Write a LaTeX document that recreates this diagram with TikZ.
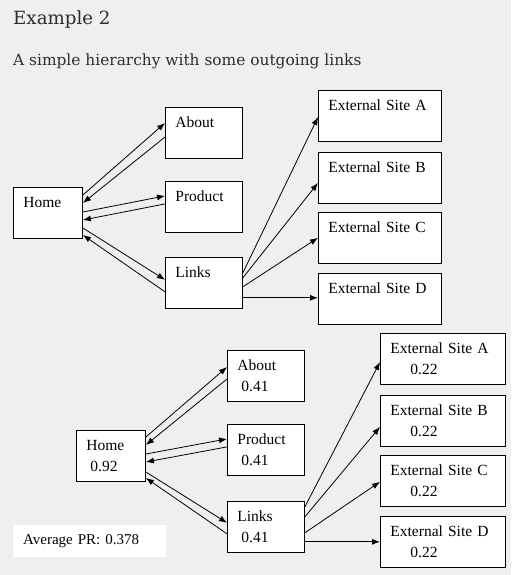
\documentclass[tikz,border=0pt]{standalone}
\usepackage{fontspec}
\setmainfont{Liberation Serif}
\newfontfamily\headfont{DejaVu Serif}
\usepackage{tikz}
\usetikzlibrary{positioning,arrows.meta,calc}
\definecolor{pagebg}{RGB}{239,239,239}
\definecolor{headtext}{RGB}{45,45,45}
\tikzset{
  pagebox/.style={draw, fill=white, line width=0.9pt, anchor=north west,
    minimum height=51pt, inner xsep=10pt, inner ysep=0pt, align=left,
    text width=57pt, font=\fontsize{15.5}{21}\selectfont},
  homebox/.style={pagebox, text width=49pt},
  sitebox/.style={pagebox, text width=103pt},
  link/.style={line width=0.8pt, -{Latex[length=8pt,width=6pt]}},
  heading/.style={anchor=base west, inner sep=0pt, text=headtext},
}
\begin{document}
\begin{tikzpicture}[x=1pt, y=-1pt]
      \fill[pagebg] (0,0) rectangle (511,575);
      \useasboundingbox (0,0) rectangle (511,575);
      \node [heading, font=\headfont\fontsize{18.2}{22}\selectfont] (t1) at (13,25) {Example 2};
      \node [heading, font=\headfont\fontsize{15.4}{19}\selectfont] (t2) at (13,66) {A simple hierarchy with some outgoing links};

      \node [homebox] (h1) at (13,187) {Home\\\mbox{}};
      \node [pagebox] (a1) at (165,107) {About\\\mbox{}};
      \node [pagebox, below=22pt of a1] (p1) {Product\\\mbox{}};
      \node [pagebox, below=24pt of p1] (l1) {Links\\\mbox{}};
      \node [sitebox] (sa1) at (318,90) {External Site A\\\mbox{}};
      \node [sitebox, below=10pt of sa1] (sb1) {External Site B\\\mbox{}};
      \node [sitebox, below=8pt of sb1] (sc1) {External Site C\\\mbox{}};
      \node [sitebox, below=9pt of sc1] (sd1) {External Site D\\\mbox{}};

      \draw [link] ($(h1.north east)+(0,8)$) -- ($(a1.north west)+(0,16)$);
      \draw [link] ($(a1.north west)+(0,30)$) -- ($(h1.north east)+(0,16)$);
      \draw [link] ($(h1.north east)+(0,25)$) -- ($(p1.north west)+(0,15)$);
      \draw [link] ($(p1.north west)+(0,23)$) -- ($(h1.north east)+(0,33)$);
      \draw [link] ($(h1.north east)+(0,41)$) -- ($(l1.north west)+(0,23)$);
      \draw [link] ($(l1.north west)+(0,35)$) -- ($(h1.north east)+(0,48)$);
      \draw [link] ($(l1.north east)+(0,16)$) -- ($(sa1.north west)+(0,27)$);
      \draw [link] ($(l1.north east)+(0,21)$) -- ($(sb1.north west)+(0,31)$);
      \draw [link] ($(l1.north east)+(0,30)$) -- ($(sc1.north west)+(0,26)$);
      \draw [link] ($(l1.north east)+(0,41)$) coordinate (d1) -- (sd1.west |- d1);

      \node [homebox] (h2) at (76,430) {Home\\\hspace*{4pt}0.92};
      \node [pagebox] (a2) at (227,350) {About\\\hspace*{4pt}0.41};
      \node [pagebox, below=22pt of a2] (p2) {Product\\\hspace*{4pt}0.41};
      \node [pagebox, below=25pt of p2] (l2) {Links\\\hspace*{4pt}0.41};
      \node [sitebox, text width=105pt] (sa2) at (380,333) {External Site A\\\hspace*{20pt}0.22};
      \node [sitebox, text width=105pt, below=10pt of sa2] (sb2) {External Site B\\\hspace*{20pt}0.22};
      \node [sitebox, text width=105pt, below=8pt of sb2] (sc2) {External Site C\\\hspace*{20pt}0.22};
      \node [sitebox, text width=105pt, below=9pt of sc2] (sd2) {External Site D\\\hspace*{20pt}0.22};
      \node [fill=white, anchor=north west, minimum height=32pt, inner xsep=10pt,
        text width=133pt, align=left, font=\fontsize{15}{18}\selectfont] (avg) at (13,525) {Average PR: 0.378};

      \draw [link] ($(h2.north east)+(0,7)$) -- ($(a2.north west)+(0,17)$);
      \draw [link] ($(a2.north west)+(0,29)$) -- ($(h2.north east)+(0,15)$);
      \draw [link] ($(h2.north east)+(0,24)$) -- ($(p2.north west)+(0,15)$);
      \draw [link] ($(p2.north west)+(0,23)$) -- ($(h2.north east)+(0,32)$);
      \draw [link] ($(h2.north east)+(0,42)$) -- ($(l2.north west)+(0,22)$);
      \draw [link] ($(l2.north west)+(0,33)$) -- ($(h2.north east)+(0,48)$);
      \draw [link] ($(l2.north east)+(0,6)$) -- ($(sa2.north west)+(0,29)$);
      \draw [link] ($(l2.north east)+(0,16)$) -- ($(sb2.north west)+(0,32)$);
      \draw [link] ($(l2.north east)+(0,32)$) -- ($(sc2.north west)+(0,27)$);
      \draw [link] ($(l2.north east)+(0,41)$) coordinate (d2) -- (sd2.west |- d2);
\end{tikzpicture}
\end{document}
